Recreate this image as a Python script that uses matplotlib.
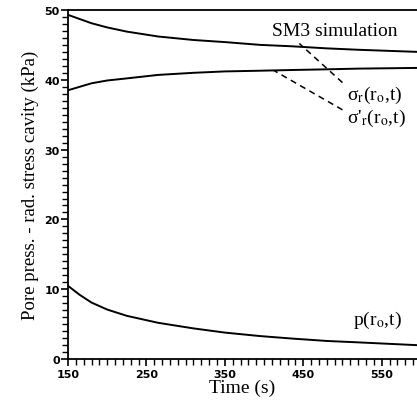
import matplotlib
matplotlib.use('Agg')
import matplotlib.pyplot as plt
from matplotlib.ticker import MultipleLocator

# values
time_s = [150, 165, 180, 200, 225, 265, 310, 350, 395, 435, 480, 520, 595]
sigma_r = [49.3, 48.7, 48.1, 47.5, 46.9, 46.2, 45.7, 45.4, 45.0, 44.8, 44.5, 44.3, 44.0]
sigma_eff = [38.5, 39.0, 39.5, 39.9, 40.2, 40.7, 41.0, 41.2, 41.3, 41.4, 41.5, 41.6, 41.7]
pore_p = [10.5, 9.2, 8.1, 7.1, 6.2, 5.2, 4.4, 3.8, 3.3, 2.95, 2.6, 2.4, 2.0]

x_ticks = [150, 250, 350, 450, 550]
y_ticks = [0, 10, 20, 30, 40, 50]

plt.rcParams['mathtext.fontset'] = 'stix'
serif = 'Liberation Serif'

fig = plt.figure(figsize=(4.17, 4.06), dpi=100)
ax = fig.add_axes([0.163, 0.113, 0.837, 0.860])

for series in (sigma_r, sigma_eff, pore_p):
    ax.plot(time_s, series, color='black', lw=1.4)

ax.set_xlim(150, 595)
ax.set_ylim(0, 50)
ax.set_xticks(x_ticks)
ax.set_yticks(y_ticks)
ax.xaxis.set_minor_locator(MultipleLocator(10))
ax.yaxis.set_minor_locator(MultipleLocator(1))
ax.tick_params(which='major', direction='out', length=5, width=1.2)
ax.tick_params(which='minor', direction='out', length=4, width=1.0)
ax.tick_params(axis='x', pad=2)
ax.tick_params(axis='y', pad=1)
for lab in ax.get_xticklabels() + ax.get_yticklabels():
    lab.set_fontsize(8)
    lab.set_fontweight('heavy')

ax.spines['right'].set_visible(False)
for s in ('left', 'bottom', 'top'):
    ax.spines[s].set_linewidth(1.3)

ax.set_xlabel('Time (s)', fontsize=14, family=serif, labelpad=0)
ax.set_ylabel('Pore press. - rad. stress cavity (kPa)', fontsize=13.5,
              family=serif, labelpad=4)

# annotations
ax.text(490, 47.1, 'SM3 simulation', fontsize=14, family=serif,
        ha='center', va='center')
ax.text(506, 37.9, r'σ$_\mathrm{r}$(r$_\mathrm{o}$,t)', fontsize=14,
        family=serif, va='center')
ax.text(506, 34.6, r"σ'$_\mathrm{r}$(r$_\mathrm{o}$,t)", fontsize=14,
        family=serif, va='center')
ax.text(513, 5.7, r'p(r$_\mathrm{o}$,t)', fontsize=14, family=serif,
        va='center')
ax.plot([500, 445], [39.6, 45.2], color='black', lw=1.1, ls=(0, (4, 3)))
ax.plot([500, 413], [35.7, 41.3], color='black', lw=1.1, ls=(0, (4, 3)))

fig.savefig('out.png', dpi=100)
